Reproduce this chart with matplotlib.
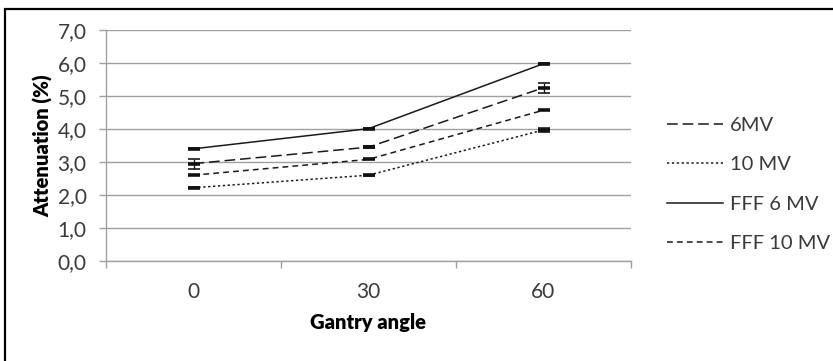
import matplotlib
matplotlib.use("Agg")
import matplotlib.pyplot as plt
from matplotlib.patches import Rectangle

# chart data
angles = ["0", "30", "60"]
series_names = ["6MV", "10 MV", "FFF 6 MV", "FFF 10 MV"]
mv6 = [2.95, 3.45, 5.25]
mv6_err = [0.15, 0.03, 0.15]
mv10 = [2.22, 2.60, 3.97]
mv10_err = [0.02, 0.02, 0.05]
fff6 = [3.40, 4.01, 5.98]
fff6_err = [0.02, 0.02, 0.02]
fff10 = [2.60, 3.08, 4.57]
fff10_err = [0.0, 0.0, 0.0]
y_ticks = [0, 1, 2, 3, 4, 5, 6, 7]

plt.rcParams['font.family'] = ['Lato', 'DejaVu Sans']

W, H = 833, 361
fig = plt.figure(figsize=(W / 100, H / 100), dpi=100)
ax = fig.add_axes([106 / W, 1 - 261 / H, (631 - 106) / W, (261 - 30) / H])

x = list(range(len(angles)))
styles = [(0, (7, 3.2)), (0, (1.5, 1.7)), "-", (0, (3.8, 2.7))]
values = [mv6, mv10, fff6, fff10]
errors = [mv6_err, mv10_err, fff6_err, fff10_err]

handles = []
for name, vals, errs, ls in zip(series_names, values, errors, styles):
    line, = ax.plot(x, vals, color="#1a1a1a", lw=1.1, linestyle=ls, label=name, zorder=3)
    handles.append(line)
    ax.errorbar(x, vals, yerr=errs, fmt="none", ecolor="#1a1a1a", elinewidth=1.0,
                capsize=4, capthick=1.2, zorder=4)
    ax.plot(x, vals, linestyle="none", marker="_", markersize=9, markeredgewidth=2.6,
            color="#111111", zorder=5)

ax.set_xlim(-0.5, len(angles) - 0.5)
ax.set_ylim(0, 7)
ax.set_yticks(y_ticks)
ax.set_yticklabels([f"{v},0" for v in y_ticks])
ax.yaxis.grid(True, color="#a0a0a0", lw=1.0)
ax.set_axisbelow(True)

ax.set_xticks([i - 0.5 for i in range(len(angles) + 1)])
ax.set_xticklabels([])
ax.set_xticks(x, minor=True)
ax.set_xticklabels(angles, minor=True)
ax.tick_params(axis="x", which="major", length=5, color="#a0a0a0", width=1)
ax.tick_params(axis="x", which="minor", length=0, pad=15, labelsize=15, labelcolor="#3a3a3a")
ax.tick_params(axis="y", length=5, color="#a0a0a0", width=1, pad=9, labelsize=15,
               labelcolor="#3a3a3a")

for side in ["top", "right"]:
    ax.spines[side].set_visible(False)
for side in ["left", "bottom"]:
    ax.spines[side].set_color("#a0a0a0")
    ax.spines[side].set_linewidth(1.0)

ax.set_xlabel("Gantry angle", fontsize=14.5, fontweight="heavy", labelpad=8)
ax.set_ylabel("Attenuation (%)", fontsize=14.5, fontweight="heavy", labelpad=3)

fig.legend(handles=handles, labels=series_names, loc="upper left",
           bbox_to_anchor=(659 / W, 1 - 109 / H), borderaxespad=0, frameon=False,
           fontsize=14.5, handlelength=2.78, handletextpad=0.34, labelspacing=1.1,
           labelcolor="#3a3a3a")

fig.patches.append(Rectangle((5 / W, -0.1), 1.2, 1.1 - 9 / H, transform=fig.transFigure,
                             fill=False, edgecolor="black", lw=1.6))

fig.savefig("out.png", dpi=100)
